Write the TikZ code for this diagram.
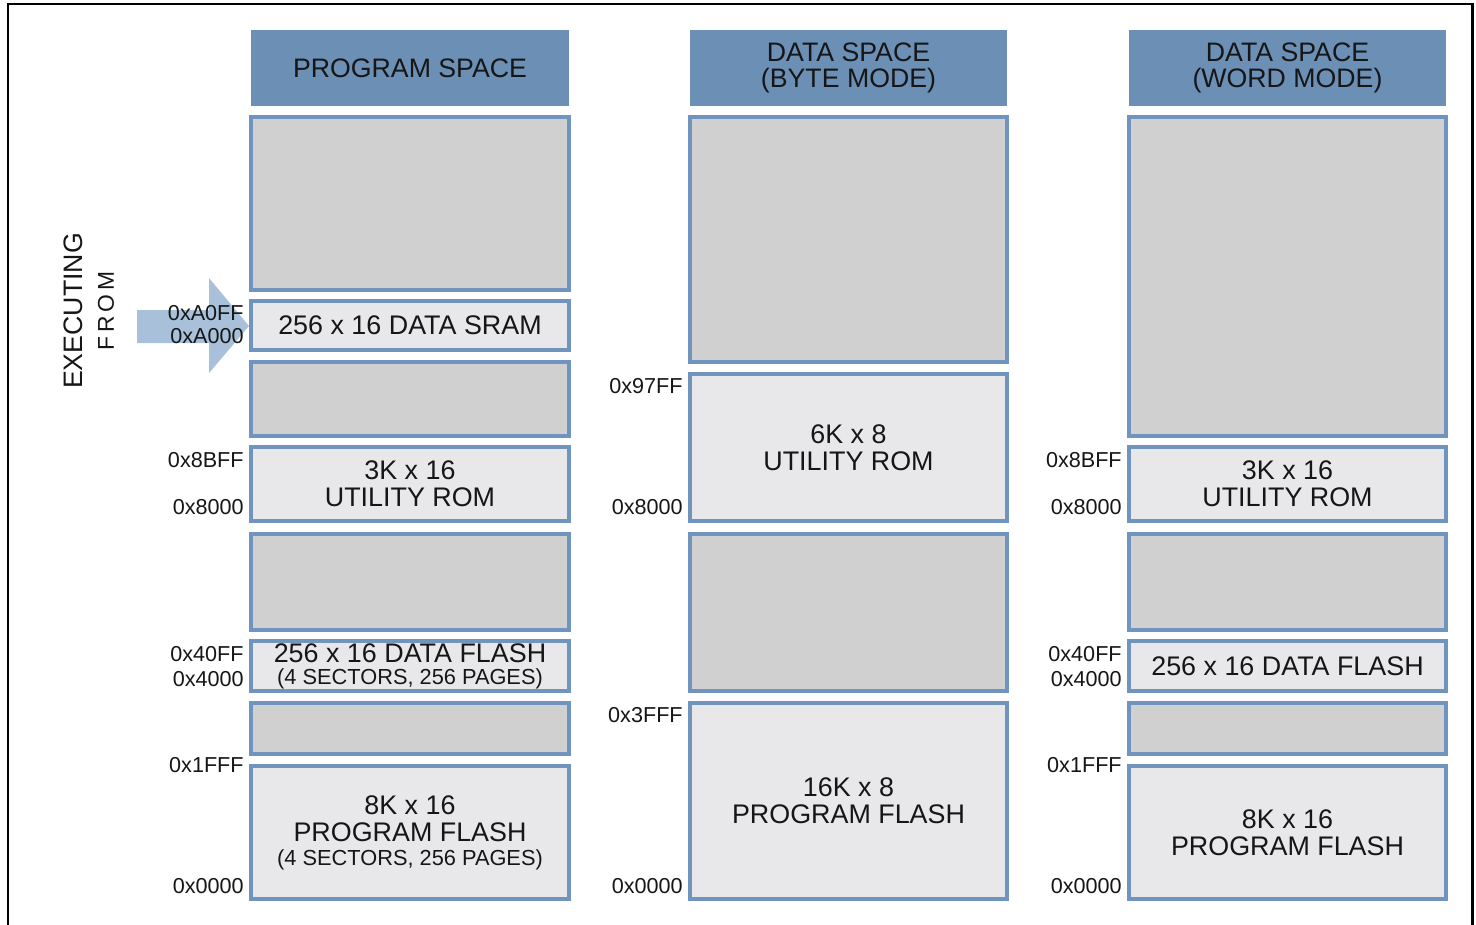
\documentclass[tikz,border=0pt]{standalone}
\usepackage{fontspec}
\setmainfont{Liberation Sans}
\definecolor{hdr}{RGB}{108,143,182}
\definecolor{edge}{RGB}{112,148,190}
\definecolor{empt}{RGB}{207,208,207}
\definecolor{used}{RGB}{232,232,234}
\definecolor{arrw}{RGB}{168,192,217}
\definecolor{ink}{RGB}{22,22,22}
\newcommand\memblk[7]{%
  \node[#6, minimum width={(#4-#2)*0.02cm}, minimum height={(#5-#3)*0.02cm}] (#1) at ({(#2+#4)/2},{(#3+#5)/2}) {#7};}
\begin{document}
\begin{tikzpicture}[x=0.02cm,y=-0.02cm,
  blk/.style={draw=edge, line width=1.8pt, inner sep=0pt, align=center, text=ink,
              font=\fontsize{15.3}{15.5}\selectfont},
  hdrbox/.style={fill=hdr, draw=none, inner sep=0pt, align=center, text=ink,
              font=\fontsize{15.2}{14.8}\selectfont},
  freebox/.style={blk, fill=empt},
  usedbox/.style={blk, fill=used},
  addr/.style={anchor=east, inner sep=0pt, text=ink, font=\fontsize{12.3}{12.3}\selectfont},
  frame/.style={draw=black, line width=1.7pt},
  sidetext/.style={rotate=90, inner sep=0pt, text=ink}]
\useasboundingbox (0,0) rectangle (1476,924);
\draw[frame] (8,935) -- (8,4) -- (1472,4) -- (1472,935);

% executing-from arrow
\fill[arrw] (137,310) -- (209,310) -- (209,278) -- (249,326) -- (209,373) -- (209,343) -- (137,343) -- cycle;
\node[sidetext, font=\fontsize{15.2}{15.2}\selectfont] (exec) at (73,311) {EXECUTING};
\node[sidetext, font=\fontsize{13}{13}\selectfont\addfontfeature{LetterSpace=18}] (from) at (106,311) {FROM};

% column 1 : program space
\memblk{h1}{251}{30}{569}{106}{hdrbox}{PROGRAM SPACE}
\memblk{a1}{251}{117}{569}{290}{freebox}{}
\memblk{a2}{251}{301}{569}{350}{usedbox}{256 x 16 DATA SRAM}
\memblk{a3}{251}{362}{569}{436}{freebox}{}
\memblk{a4}{251}{447}{569}{521}{usedbox}{3K x 16\\UTILITY ROM}
\memblk{a5}{251}{534}{569}{630}{freebox}{}
\memblk{a6}{251}{641}{569}{691}{usedbox}{256 x 16 DATA FLASH\\[-3pt]{\fontsize{12.4}{13}\selectfont (4 SECTORS, 256 PAGES)}}
\memblk{a7}{251}{703}{569}{754}{freebox}{}
\memblk{a8}{251}{766}{569}{899}{usedbox}{8K x 16\\PROGRAM FLASH\\[-2pt]{\fontsize{12.4}{13}\selectfont (4 SECTORS, 256 PAGES)}}

\node[addr] (l1a) at (244,313) {0xA0FF};
\node[addr] (l1b) at (244,336) {0xA000};
\node[addr] (l1c) at (244,460) {0x8BFF};
\node[addr] (l1d) at (244,507) {0x8000};
\node[addr] (l1e) at (244,654) {0x40FF};
\node[addr] (l1f) at (244,679) {0x4000};
\node[addr] (l1g) at (244,765) {0x1FFF};
\node[addr] (l1h) at (244,886) {0x0000};

% column 2 : data space byte mode
\memblk{h2}{690}{30}{1007}{106}{hdrbox}{DATA SPACE\\(BYTE MODE)}
\memblk{b1}{690}{117}{1007}{362}{freebox}{}
\memblk{b2}{690}{374}{1007}{521}{usedbox}{6K x 8\\UTILITY ROM}
\memblk{b3}{690}{534}{1007}{691}{freebox}{}
\memblk{b4}{690}{703}{1007}{899}{usedbox}{16K x 8\\PROGRAM FLASH}

\node[addr] (l2a) at (683,386) {0x97FF};
\node[addr] (l2b) at (683,507) {0x8000};
\node[addr] (l2c) at (683,715) {0x3FFF};
\node[addr] (l2d) at (683,886) {0x0000};

% column 3 : data space word mode
\memblk{h3}{1129}{30}{1446}{106}{hdrbox}{DATA SPACE\\(WORD MODE)}
\memblk{c1}{1129}{117}{1446}{436}{freebox}{}
\memblk{c2}{1129}{447}{1446}{521}{usedbox}{3K x 16\\UTILITY ROM}
\memblk{c3}{1129}{534}{1446}{630}{freebox}{}
\memblk{c4}{1129}{641}{1446}{691}{usedbox}{256 x 16 DATA FLASH}
\memblk{c5}{1129}{703}{1446}{754}{freebox}{}
\memblk{c6}{1129}{766}{1446}{899}{usedbox}{8K x 16\\PROGRAM FLASH}

\node[addr] (l3a) at (1122,460) {0x8BFF};
\node[addr] (l3b) at (1122,507) {0x8000};
\node[addr] (l3c) at (1122,654) {0x40FF};
\node[addr] (l3d) at (1122,679) {0x4000};
\node[addr] (l3e) at (1122,765) {0x1FFF};
\node[addr] (l3f) at (1122,886) {0x0000};
\end{tikzpicture}
\end{document}
